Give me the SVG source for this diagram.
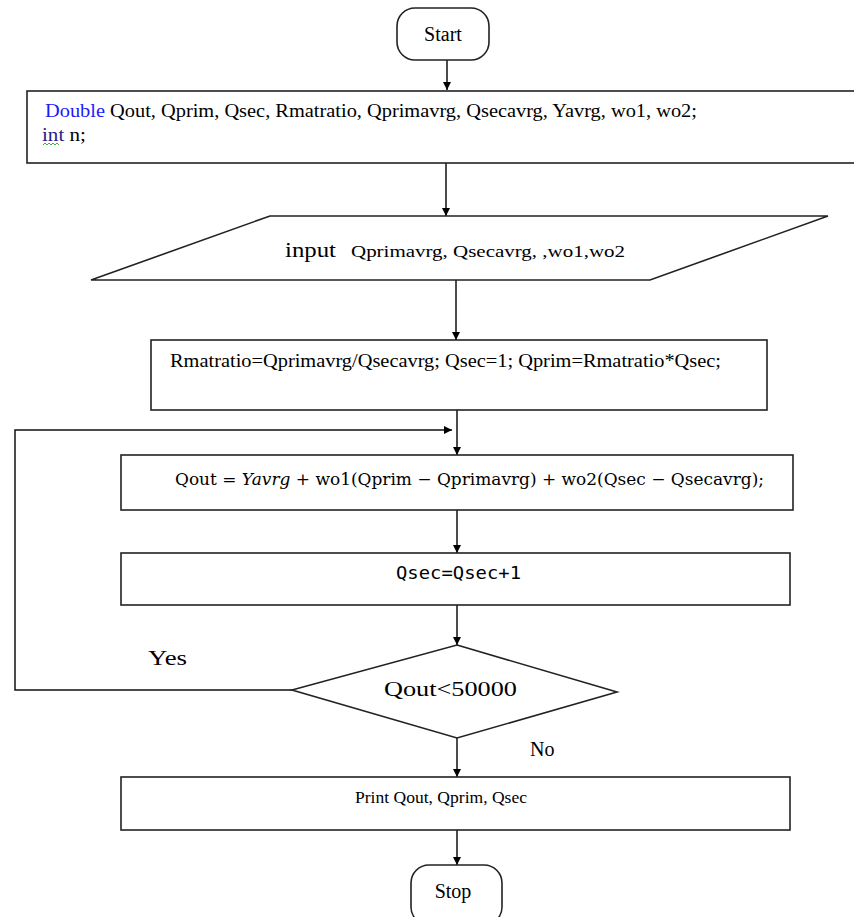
<svg xmlns="http://www.w3.org/2000/svg" width="854" height="917" viewBox="0 0 854 917">
<defs>
<marker id="ah" viewBox="0 0 10 10" refX="10" refY="5" markerWidth="9" markerHeight="8" markerUnits="userSpaceOnUse" orient="auto"><path d="M0,0 L10,5 L0,10 z" fill="#000"/></marker>
</defs>
<style>
.box{fill:#fff;stroke:#222;stroke-width:1.6}
.ln{fill:none;stroke:#111;stroke-width:1.5}
.t{font-family:"Liberation Serif","Times New Roman",serif;fill:#000}
.m{font-family:"DejaVu Serif","Liberation Serif",serif;fill:#000}
.c{font-family:"DejaVu Sans Mono","Liberation Mono",monospace;fill:#000}
</style>
<rect width="854" height="917" fill="#fff"/>
<g id="connectors">
<path class="ln" d="M447,60 V90" marker-end="url(#ah)"/>
<path class="ln" d="M446,163 V216" marker-end="url(#ah)"/>
<path class="ln" d="M456,280 V340" marker-end="url(#ah)"/>
<path class="ln" d="M457,410 V455" marker-end="url(#ah)"/>
<path class="ln" d="M457,510 V553" marker-end="url(#ah)"/>
<path class="ln" d="M457,605 V645" marker-end="url(#ah)"/>
<path class="ln" d="M457,738 V777" marker-end="url(#ah)"/>
<path class="ln" d="M457,830 V865" marker-end="url(#ah)"/>
<path class="ln" d="M292,690 H15 V430 H452" marker-end="url(#ah)"/>
<text class="t" x="148" y="665" font-size="20" textLength="39" lengthAdjust="spacingAndGlyphs">Yes</text>
<text class="t" x="530" y="756" font-size="20">No</text>
</g>
<g id="start">
<rect class="box" x="397" y="8" width="92" height="52" rx="18"/>
<text class="t" x="443" y="41" font-size="20" text-anchor="middle">Start</text>
</g>
<g id="declare">
<rect class="box" x="27" y="91" width="830" height="72" stroke-width="2"/>
<text class="t" x="45" y="117" font-size="18" textLength="652" lengthAdjust="spacingAndGlyphs"><tspan fill="#1a1aff">Double</tspan> Qout, Qprim, Qsec, Rmatratio, Qprimavrg, Qsecavrg, Yavrg, wo1, wo2;</text>
<text class="t" x="42" y="141" font-size="18" textLength="44" lengthAdjust="spacingAndGlyphs"><tspan fill="#2a1a8a">int</tspan> n;</text>
<path d="M43,145 l2,-2 l2,2 l2,-2 l2,2 l2,-2 l2,2 l2,-2 l2,2" fill="none" stroke="#3cb043" stroke-width="1"/>
</g>
<g id="input">
<polygon class="box" points="270,216 828,216 650,280 91,280"/>
<text class="t" x="285" y="257" font-size="20" textLength="51" lengthAdjust="spacingAndGlyphs">input</text>
<text class="t" x="351" y="257" font-size="17" textLength="274" lengthAdjust="spacingAndGlyphs">Qprimavrg, Qsecavrg, ,wo1,wo2</text>
</g>
<g id="init">
<rect class="box" x="151" y="340" width="616" height="70"/>
<text class="t" x="170" y="367" font-size="18" textLength="551" lengthAdjust="spacingAndGlyphs">Rmatratio=Qprimavrg/Qsecavrg; Qsec=1; Qprim=Rmatratio*Qsec;</text>
</g>
<g id="compute">
<rect class="box" x="121" y="455" width="672" height="55"/>
<text class="m" x="175" y="485" font-size="17" textLength="589" lengthAdjust="spacingAndGlyphs">Qout = <tspan font-style="italic">Yavrg</tspan> + wo1(Qprim − Qprimavrg)  + wo2(Qsec − Qsecavrg);</text>
</g>
<g id="increment">
<rect class="box" x="121" y="553" width="669" height="52"/>
<text class="c" x="396" y="579" font-size="17" textLength="125" lengthAdjust="spacingAndGlyphs">Qsec=Qsec+1</text>
</g>
<g id="decision">
<polygon class="box" points="457,645 617,692 457,738 292,690"/>
<text class="t" x="384" y="696" font-size="20" textLength="133" lengthAdjust="spacingAndGlyphs">Qout&lt;50000</text>
</g>
<g id="print">
<rect class="box" x="121" y="777" width="669" height="53"/>
<text class="t" x="355" y="803" font-size="17" textLength="172" lengthAdjust="spacingAndGlyphs">Print Qout, Qprim, Qsec</text>
</g>
<g id="stop">
<rect class="box" x="411" y="865" width="91" height="60" rx="18"/>
<text class="t" x="453" y="898" font-size="20" text-anchor="middle">Stop</text>
</g>
</svg>
